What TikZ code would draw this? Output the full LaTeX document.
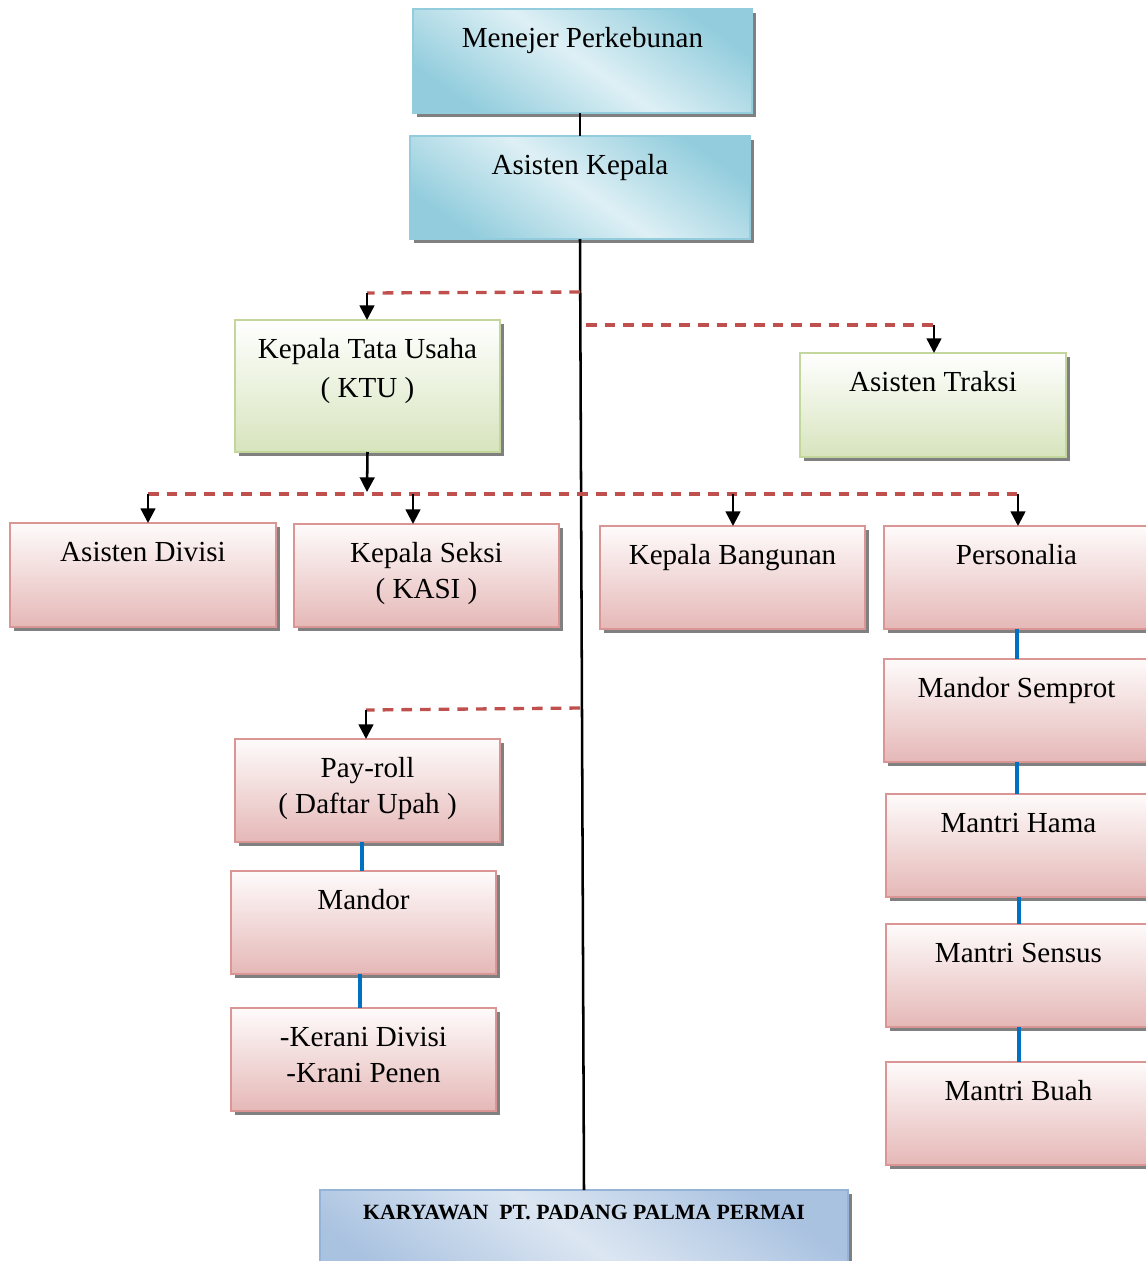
\documentclass[tikz,border=0pt]{standalone}
\usepackage{fontspec}
\setmainfont{Liberation Serif}
\usetikzlibrary{shadows,arrows.meta}
\definecolor{bluD}{HTML}{93CDDD}
\definecolor{bluL}{HTML}{DEF0F5}
\definecolor{bluB}{HTML}{93CDDD}
\definecolor{grnB}{HTML}{C3D69B}
\definecolor{grnD}{HTML}{D7E4BD}
\definecolor{redB}{HTML}{D99694}
\definecolor{redD}{HTML}{E5B8B7}
\definecolor{redL}{HTML}{FEFBFB}
\definecolor{karB}{HTML}{95B3D7}
\definecolor{karD}{HTML}{A9C2E0}
\definecolor{karL}{HTML}{DCE6F2}
\definecolor{dashR}{HTML}{C0504D}
\definecolor{conB}{HTML}{0070C0}
\newcommand\tb[3]{\parbox[t][#2][t]{#1}{\centering\fontsize{21.8pt}{27pt}\selectfont\rule{0pt}{29pt}#3}}
\tikzset{
  base/.style={inner sep=0pt, outer sep=0pt, line width=1.8pt,
    drop shadow={shadow xshift=3pt, shadow yshift=-3pt, fill=black!50, opacity=1}},
  bluebox/.style={base, draw=bluB, top color=bluD, bottom color=bluD, middle color=bluL, shading angle=-35},
  greenbox/.style={base, draw=grnB, top color=white, bottom color=grnD},
  redbox/.style={base, draw=redB, top color=redL, bottom color=redD},
  karbox/.style={base, draw=karB, top color=karD, bottom color=karD, middle color=karL, shading angle=-35},
  blk/.style={draw=black, line width=1.9pt},
  arr/.style={draw=black, line width=1.9pt, -{Triangle[width=11pt,length=11pt]}},
  rdash/.style={draw=dashR, line width=2.5pt, dash pattern=on 8pt off 6pt},
  bcon/.style={draw=conB, line width=3pt},
}
\begin{document}
\begin{tikzpicture}[x=0.75pt,y=-0.75pt]
\path[use as bounding box, fill=white] (0,0) rectangle (1146,1261);

% boxes
\node[bluebox] (me) at (582.5,61) {\tb{254.25pt}{78pt}{Menejer Perkebunan}};
\node[bluebox] (ak) at (580,187.5) {\tb{255pt}{77.25pt}{Asisten Kepala}};
\node[greenbox] (ktu) at (367.5,386) {\tb{198.75pt}{99pt}{Kepala Tata Usaha\\[2pt]( KTU )}};
\node[greenbox] (at) at (933,405) {\tb{199.5pt}{78pt}{Asisten Traksi}};
\node[redbox] (ad) at (143,575) {\tb{199.5pt}{78pt}{Asisten Divisi}};
\node[redbox] (ks) at (426.5,575.5) {\tb{198.75pt}{77.25pt}{Kepala Seksi\\( KASI )}};
\node[redbox] (kb) at (732.5,577.5) {\tb{198.75pt}{77.25pt}{Kepala Bangunan}};
\node[redbox] (pers) at (1016.5,577.5) {\tb{198.75pt}{77.25pt}{Personalia}};
\node[redbox] (ms) at (1016.5,710.5) {\tb{198.75pt}{77.25pt}{Mandor Semprot}};
\node[redbox] (mh) at (1018.5,845.5) {\tb{198.75pt}{77.25pt}{Mantri Hama}};
\node[redbox] (msen) at (1018.5,975.5) {\tb{198.75pt}{77.25pt}{Mantri Sensus}};
\node[redbox] (mb) at (1018.5,1113.5) {\tb{198.75pt}{77.25pt}{Mantri Buah}};
\node[redbox] (pr) at (367.5,790.5) {\tb{198.75pt}{77.25pt}{Pay-roll\\( Daftar Upah )}};
\node[redbox] (mdr) at (363.5,922.5) {\tb{198.75pt}{77.25pt}{Mandor}};
\node[redbox] (kr) at (363.5,1059.5) {\tb{198.75pt}{77.25pt}{-Kerani Divisi\\-Krani Penen}};
\node[karbox] (kar) at (584,1242) {\parbox[t][78pt][t]{396pt}{\centering\fontsize{16.3pt}{19pt}\selectfont\bfseries\rule{0pt}{22pt}KARYAWAN\ \ PT. PADANG PALMA PERMAI}};

% main black lines
\draw[blk] (ak.north |- me.south) -- (ak.north);
\draw[blk] (ak.south) -- (kar.north);

% KTU branch
\coordinate (t1) at (580,292);
\coordinate (c1) at (367,293);
\draw[rdash] (t1) -- (c1);
\draw[arr] (c1) -- (c1 |- ktu.north);

% Asisten Traksi branch
\coordinate (t2) at (586,325);
\coordinate (c2) at (934,325);
\draw[rdash] (t2) -- (c2);
\draw[arr] (c2) -- (c2 |- at.north);

% KTU to level 3
\coordinate (k3) at (367,492);
\draw[arr] (ktu.south) -- (k3);
\coordinate (d1) at (148,494);
\coordinate (d2) at (413,494);
\coordinate (d3) at (733,494);
\coordinate (d4) at (1018,494);
\draw[rdash] (d1) -- (d4);
\draw[arr] (d1) -- (d1 |- ad.north);
\draw[arr] (d2) -- (d2 |- ks.north);
\draw[arr] (d3) -- (d3 |- kb.north);
\draw[arr] (d4) -- (d4 |- pers.north);

% Pay-roll branch
\coordinate (t3) at (580,708);
\coordinate (c3) at (366,710);
\draw[rdash] (t3) -- (c3);
\draw[arr] (c3) -- (c3 |- pr.north);

% blue connectors
\draw[bcon] (pers.south) -- (pers.south |- ms.north);
\draw[bcon] (ms.south) -- (ms.south |- mh.north);
\draw[bcon] (mh.south) -- (mh.south |- msen.north);
\draw[bcon] (msen.south) -- (msen.south |- mb.north);
\draw[bcon] ([xshift=-4.1pt]pr.south) -- ([xshift=-4.1pt]pr.south |- mdr.north);
\draw[bcon] ([xshift=-2.6pt]mdr.south) -- ([xshift=-2.6pt]mdr.south |- kr.north);
\end{tikzpicture}
\end{document}
